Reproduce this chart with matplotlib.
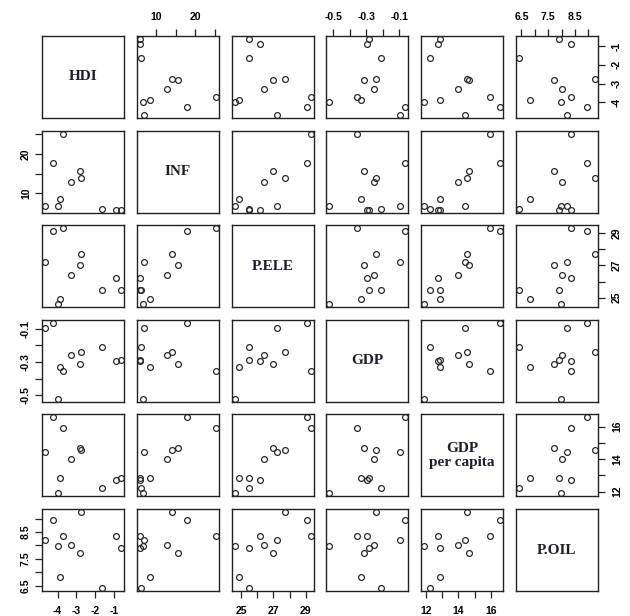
import matplotlib
matplotlib.use("Agg")
import matplotlib.pyplot as plt
import numpy as np

hdi    = [-0.62, -0.90, -1.62, -2.76, -2.83, -3.28, -3.96, -3.87, -4.26, -3.72, -4.67]
inf    = [5.9, 5.9, 6.1, 14.0, 15.6, 12.9, 6.8, 8.5, 17.8, 25.2, 6.9]
p_ele  = [25.5, 26.2, 25.5, 27.7, 27.0, 26.4, 24.6, 24.9, 29.1, 29.3, 27.2]
gdp    = [-0.286, -0.295, -0.209, -0.239, -0.311, -0.255, -0.522, -0.330, -0.064, -0.355, -0.095]
gdp_pc = [12.85, 12.75, 12.25, 14.55, 14.66, 14.0, 11.9, 12.86, 16.57, 15.95, 14.42]
p_oil  = [7.91, 8.37, 6.41, 9.25, 7.70, 8.00, 7.97, 6.82, 8.97, 8.35, 8.19]

var_names = ["HDI", "INF", "P.ELE", "GDP", "GDP\nper capita", "P.OIL"]
variables = [hdi, inf, p_ele, gdp, gdp_pc, p_oil]

tick_values = [
    [-4, -3, -2, -1],
    [10, 15, 20, 25],
    [25, 26, 27, 28, 29],
    [-0.5, -0.4, -0.3, -0.2, -0.1],
    [12, 13, 14, 15, 16],
    [6.5, 7.0, 7.5, 8.0, 8.5, 9.0],
]
tick_labels = [
    ["-4", "-3", "-2", "-1"],
    ["10", "", "20", ""],
    ["25", "", "27", "", "29"],
    ["-0.5", "", "-0.3", "", "-0.1"],
    ["12", "", "14", "", "16"],
    ["6.5", "", "7.5", "", "8.5", ""],
]

W, H = 630, 616
fig = plt.figure(figsize=(W / 100, H / 100), dpi=100)

n = len(variables)
left0, top0 = 42, 36
pw, ph = 82, 82
stepx, stepy = 94.8, 94.6

def rlim(v):
    lo, hi = min(v), max(v)
    pad = 0.04 * (hi - lo)
    return lo - pad, hi + pad

box_col = "#222222"
tick_font = dict(family="Liberation Sans", weight="bold", size=7.5)

for i in range(n):
    for j in range(n):
        x0 = left0 + j * stepx
        y0 = top0 + i * stepy
        ax = fig.add_axes([x0 / W, 1 - (y0 + ph) / H, pw / W, ph / H])
        ax.set_xlim(rlim(variables[j]))
        ax.set_ylim(rlim(variables[i]))
        for s in ax.spines.values():
            s.set_color(box_col)
            s.set_linewidth(1.0)
        ax.set_xticks([])
        ax.set_yticks([])
        if i == j:
            ax.text(0.5, 0.5, var_names[i], transform=ax.transAxes,
                    ha="center", va="center", family="Liberation Serif",
                    weight="bold", fontsize=11, color="#1e1e28",
                    linespacing=1.05)
        else:
            ax.plot(variables[j], variables[i], linestyle="none", marker="o",
                    markersize=4.2, markerfacecolor="none",
                    markeredgecolor="#2a2a2a", markeredgewidth=0.9)
        ax.tick_params(axis="both", length=5, width=0.9, color=box_col)
        # outer axes, alternating like R's pairs()
        if i == 0 and j % 2 == 1:
            ax.xaxis.tick_top()
            ax.set_xticks(tick_values[j])
            ax.set_xticklabels(tick_labels[j], **tick_font)
            ax.tick_params(axis="x", pad=5)
        if i == n - 1 and j % 2 == 0:
            ax.set_xticks(tick_values[j])
            ax.set_xticklabels(tick_labels[j], **tick_font)
            ax.tick_params(axis="x", pad=5.5)
        if j == 0 and i % 2 == 1:
            ax.set_yticks(tick_values[i])
            ax.set_yticklabels(tick_labels[i], rotation=90, va="center", **tick_font)
            ax.tick_params(axis="y", pad=3)
        if j == n - 1 and i % 2 == 0:
            ax.yaxis.tick_right()
            ax.set_yticks(tick_values[i])
            ax.set_yticklabels(tick_labels[i], rotation=90, va="center", **tick_font)
            ax.tick_params(axis="y", pad=5)

fig.savefig("out.png", dpi=100)
